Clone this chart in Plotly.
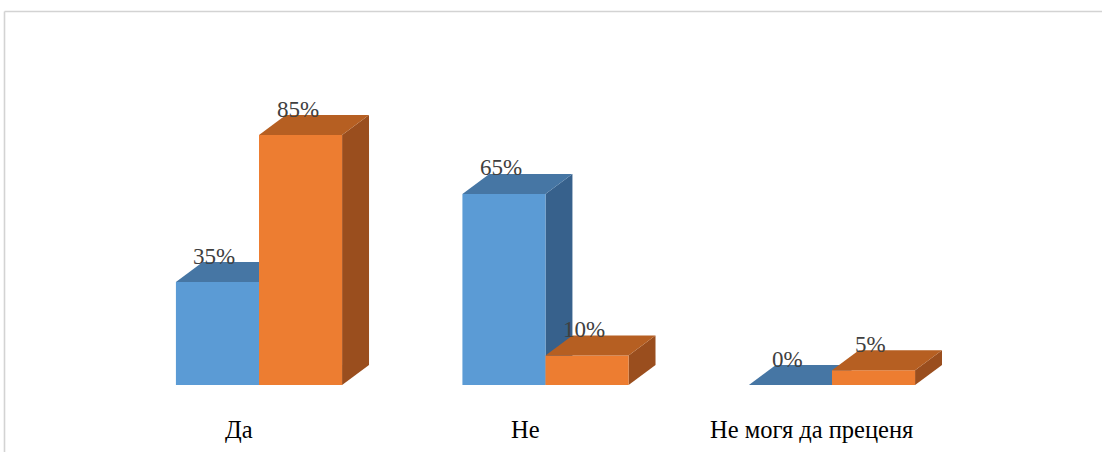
import plotly.graph_objects as go

# Survey answers and the share of respondents for each of the two groups
categories = ["Да", "Не", "Не могя да преценя"]
series_a = [35, 65, 0]   # blue bars
series_b = [85, 10, 5]   # orange bars

# Styling / geometry constants (axis units)
BAR_W = 0.29          # width of one bar face
DEPTH_X = 0.094       # horizontal offset of the 3-D back edge
DEPTH_Y = 6.8         # vertical offset of the 3-D back edge (in %)
SERIF = "Liberation Serif"

COLORS = {
    "a": {"front": "#5B9BD5", "top": "#4676A4", "side": "#37618C"},
    "b": {"front": "#ED7D31", "top": "#B65F22", "side": "#9A4E1E"},
}

fig = go.Figure()


def face(xs, ys, color):
    fig.add_trace(go.Scatter(
        x=xs, y=ys, fill="toself", fillcolor=color, mode="lines",
        line=dict(width=0, color=color), hoverinfo="skip", showlegend=False))


def add_box(x0, value, col):
    x1 = x0 + BAR_W
    # right side face
    face([x1, x1, x1 + DEPTH_X, x1 + DEPTH_X, x1],
         [0, value, value + DEPTH_Y, DEPTH_Y, 0], col["side"])
    # front face
    face([x0, x1, x1, x0, x0], [0, 0, value, value, 0], col["front"])
    # top face
    face([x0, x1, x1 + DEPTH_X, x0 + DEPTH_X, x0],
         [value, value, value + DEPTH_Y, value + DEPTH_Y, value], col["top"])


annotations = []
for i, (cat, va, vb) in enumerate(zip(categories, series_a, series_b)):
    add_box(i - BAR_W, va, COLORS["a"])
    add_box(i, vb, COLORS["b"])
    for xc, v in ((i - BAR_W / 2, va), (i + BAR_W / 2, vb)):
        annotations.append(dict(
            x=xc, y=v, xref="x", yref="y", text=f"{v}%", showarrow=False,
            xanchor="center", yanchor="middle", yshift=26, xshift=-3,
            font=dict(family=SERIF, size=23, color="#404040")))
    annotations.append(dict(
        x=i - 0.07, y=-15.3, xref="x", yref="y", text=cat, showarrow=False,
        xanchor="center", yanchor="middle",
        font=dict(family=SERIF, size=24.5, color="#000000")))

# chart frame (top and left edges)
shapes = [
    dict(type="line", xref="paper", yref="paper", x0=4.5 / 1102, x1=1,
         y0=1 - 11.5 / 452, y1=1 - 11.5 / 452, line=dict(color="#D3D3D3", width=1.6)),
    dict(type="line", xref="paper", yref="paper", x0=4.5 / 1102, x1=4.5 / 1102,
         y0=0, y1=1 - 11.5 / 452, line=dict(color="#D3D3D3", width=1.6)),
]

fig.update_layout(
    width=1102, height=452, autosize=False,
    margin=dict(l=0, r=0, t=0, b=0),
    paper_bgcolor="white", plot_bgcolor="white",
    showlegend=False,
    xaxis=dict(range=[-259 / 286.5, (1102 - 259) / 286.5], visible=False, fixedrange=True),
    yaxis=dict(range=[-67 / 2.94, 385 / 2.94], visible=False, fixedrange=True),
    annotations=annotations, shapes=shapes,
)

fig.write_html("out.html")
